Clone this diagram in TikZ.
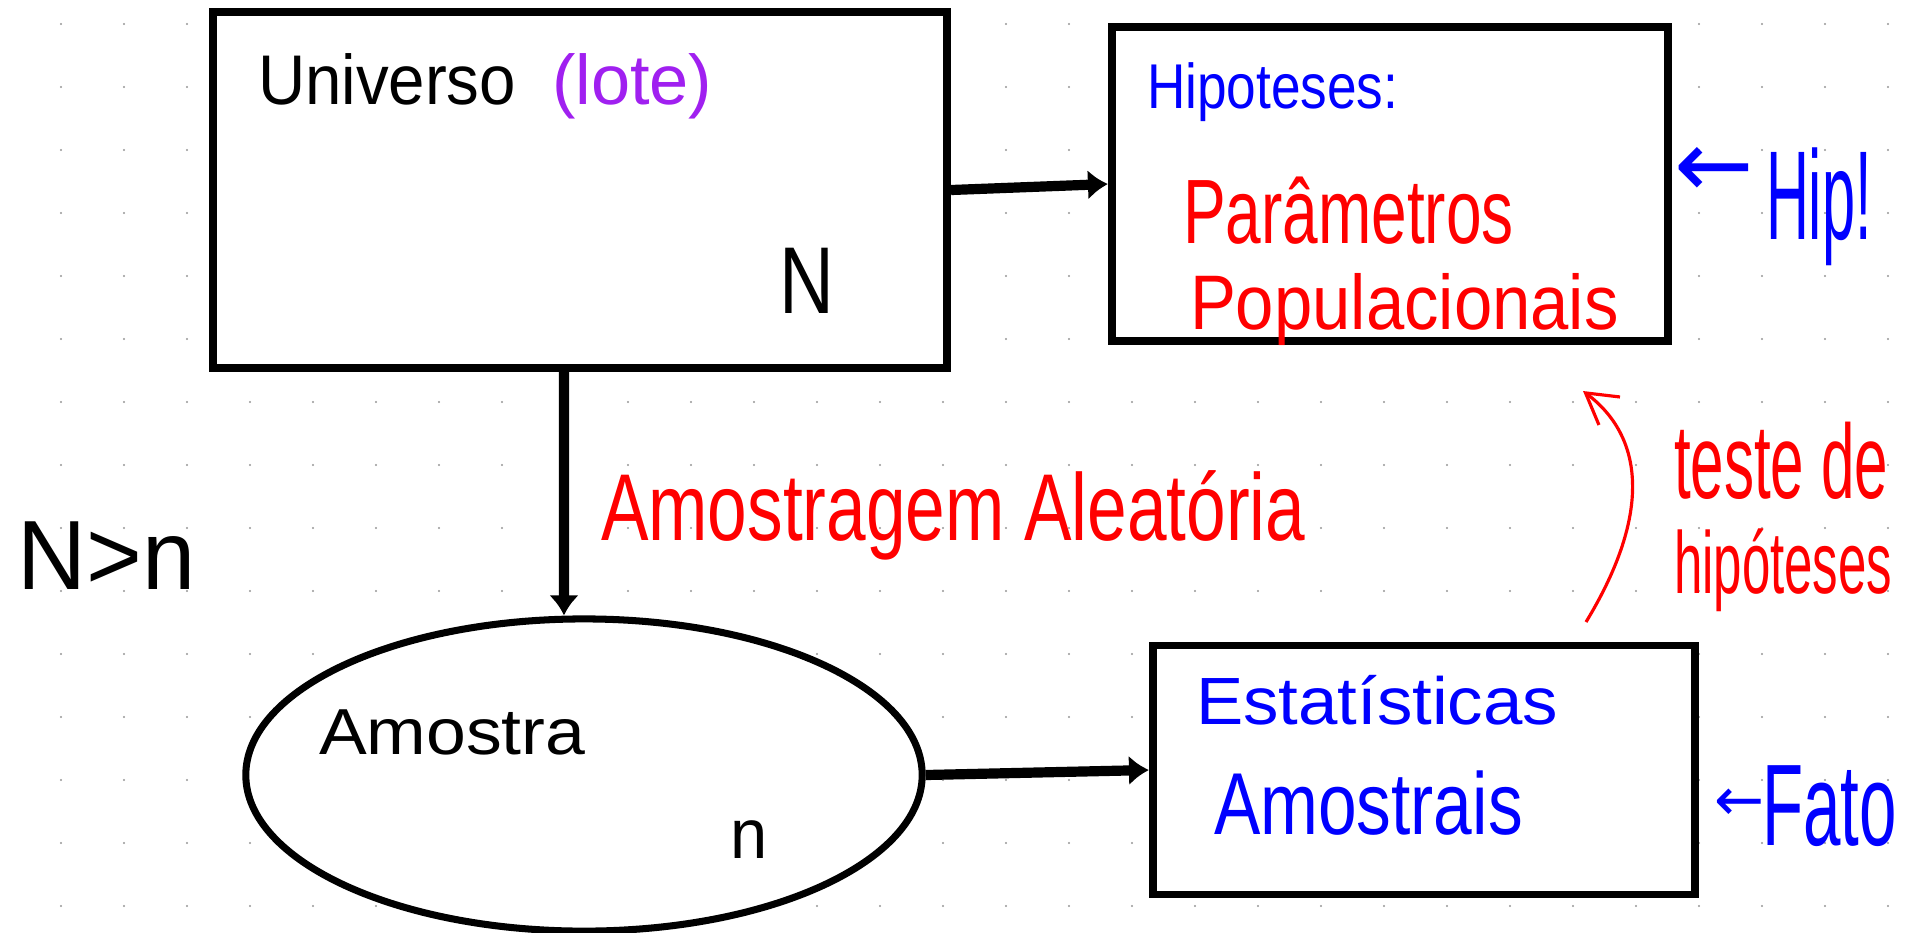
\documentclass[tikz,border=0pt]{standalone}
\usepackage{graphicx}
\usepackage{fontspec}
\setmainfont{Liberation Sans}
\newfontfamily\symfont{DejaVu Sans}
\usetikzlibrary{arrows.meta,shapes.geometric,calc}
\definecolor{inkblue}{RGB}{0,0,255}
\definecolor{inkred}{RGB}{255,0,0}
\definecolor{inkpurple}{RGB}{160,32,240}
\definecolor{dotgray}{RGB}{150,150,150}
\newcommand{\hw}[3]{\fontsize{#1}{#1}\selectfont\scalebox{#2}[1]{#3}}
\tikzset{
  box/.style={draw, line width=2.2pt, fill=white, rectangle, inner sep=0pt},
  oval/.style={draw, line width=2pt, fill=white, ellipse, inner sep=0pt},
  conn/.style={line width=2.9pt, -{Latex[length=0.2cm,width=0.3cm]}},
  redconn/.style={inkred, line width=0.9pt, -{Straight Barb[length=0.3cm,width=0.35cm]}},
  txt/.style={anchor=base west, inner sep=0pt, outer sep=0pt},
  sym/.style={anchor=center, inner sep=0pt, font=\symfont\fontsize{#1}{#1}\selectfont},
}
\begin{document}
\begin{tikzpicture}[x=0.01cm, y=-0.01cm]
\useasboundingbox[fill=white] (0,0) rectangle (1923,932);
% dot grid
\foreach \i in {0,...,29} \foreach \j in {0,...,14}
  \fill[dotgray] (61+63*\i, 24+63*\j) circle (0.012cm);

% boxes
\node[box, minimum width=7.34cm, minimum height=3.56cm] (univ) at (580,190) {};
\node[box, minimum width=5.56cm, minimum height=3.14cm] (hip) at (1390,184) {};
\node[box, minimum width=5.42cm, minimum height=2.49cm] (est) at (1424,770) {};
\node[oval, minimum width=6.76cm, minimum height=3.12cm] (amos) at (584,775) {};

% connectors
\draw[conn] (univ.east) -- (hip.west);
\draw[conn] ([xshift=-0.16cm]univ.south) -- ([xshift=-0.2cm]amos.north);
\draw[conn] (amos.east) -- (est.west);
\coordinate (cs) at (1586,622);
\coordinate (ce) at (1583,391);
\draw[redconn] (cs) .. controls (1648,520) and (1648,440) .. (ce);

% texts
\node[txt] (tUniv) at (258,104) {\hw{20}{0.93}{Universo}};
\node[txt, text=inkpurple] (tLote) at (552,104) {\hw{20}{1.0}{(lote)}};
\node[txt] (tN) at (779,313) {\hw{27}{0.8}{N}};
\node[txt, text=inkblue] (tHip) at (1147,108) {\hw{18}{0.84}{Hipoteses:}};
\node[txt, text=inkred] (tPar) at (1183,243) {\hw{26}{0.70}{Parâmetros}};
\node[txt, text=inkred] (tPop) at (1190,329) {\hw{22}{0.89}{Populacionais}};
\node[sym=27, text=inkblue] (aHip) at (1714,172) {←};
\node[txt, text=inkblue] (tHipEx) at (1766,239) {\hw{36}{0.47}{Hip!}};
\node[txt, text=inkred] (tAmAl) at (601,540) {\hw{27}{0.75}{Amostragem Aleatória}};
\node[txt, text=inkred] (tTeste) at (1674,498) {\hw{30}{0.57}{teste de}};
\node[txt, text=inkred] (tHipot) at (1674,593) {\hw{25}{0.58}{hipóteses}};
\node[txt] (tNn) at (18,589) {\hw{28}{0.97}{N>n}};
\node[txt] (tAmostra) at (319,754) {\hw{18.5}{1.1}{Amostra}};
\node[txt] (tn) at (730,858) {\hw{20}{0.95}{n}};
\node[txt, text=inkblue] (tEst) at (1196,724) {\hw{19}{1.06}{Estatísticas}};
\node[txt, text=inkblue] (tAmostrais) at (1214,834) {\hw{25}{0.79}{Amostrais}};
\node[sym=17, text=inkblue] (aFato) at (1740,805) {←};
\node[txt, text=inkblue] (tFato) at (1762,845) {\hw{33}{0.58}{Fato}};
\end{tikzpicture}
\end{document}
